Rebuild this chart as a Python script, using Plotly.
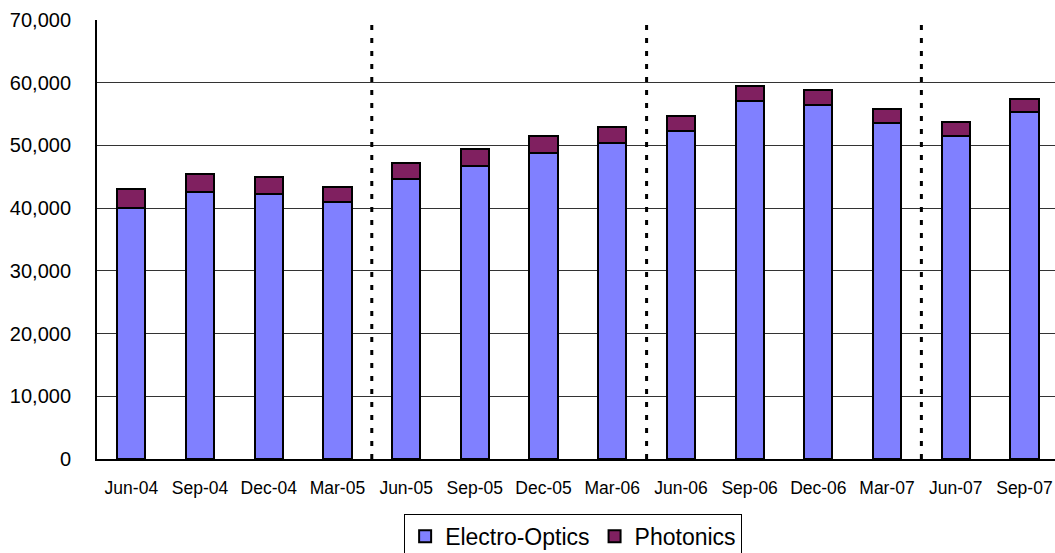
import plotly.graph_objects as go

quarters = ["Jun-04", "Sep-04", "Dec-04", "Mar-05", "Jun-05", "Sep-05", "Dec-05",
            "Mar-06", "Jun-06", "Sep-06", "Dec-06", "Mar-07", "Jun-07", "Sep-07"]
electro_optics = [40000, 42500, 42200, 41000, 44600, 46800, 48800,
                  50400, 52300, 57100, 56500, 53600, 51500, 55300]
photonics = [3000, 2900, 2700, 2400, 2600, 2600, 2700,
             2600, 2400, 2400, 2300, 2200, 2300, 2100]
# fiscal year boundaries (between Mar and Jun)
year_breaks = [3.5, 7.5, 11.5]

FONT = "Liberation Sans, Arial, sans-serif"
idx = list(range(len(quarters)))

fig = go.Figure()
fig.add_trace(go.Bar(
    x=idx, y=electro_optics, name="Electro-Optics",
    marker=dict(color="#8080FF", line=dict(color="black", width=2)),
    width=0.41,
))
fig.add_trace(go.Bar(
    x=idx, y=photonics, name="Photonics",
    marker=dict(color="#802060", line=dict(color="black", width=2)),
    width=0.41,
))

for xb in year_breaks:
    fig.add_shape(type="line", xref="x", yref="paper", x0=xb, x1=xb, y0=0, y1=1,
                  line=dict(color="black", width=3, dash="5px,8px"), layer="above")

fig.update_layout(
    barmode="stack",
    width=1055, height=553,
    margin=dict(l=97, r=0, t=20, b=94, autoexpand=False),
    paper_bgcolor="white", plot_bgcolor="white",
    font=dict(family=FONT, color="black", size=18),
    showlegend=True,
    legend=dict(orientation="h", x=0.497, xanchor="center", y=-0.125, yanchor="top",
                bordercolor="black", borderwidth=1, font=dict(size=23),
                traceorder="normal", itemwidth=30, tracegroupgap=0),
    xaxis=dict(
        tickmode="array", tickvals=idx, ticktext=quarters,
        range=[-0.5, 13.445], showline=True, linecolor="black", linewidth=2,
        showgrid=False, ticks="", tickfont=dict(size=17.5), ticklabelstandoff=12,
    ),
    yaxis=dict(
        range=[0, 70000], dtick=10000, tickformat=",d",
        showline=True, linecolor="black", linewidth=2,
        showgrid=True, gridcolor="#333333", gridwidth=1,
        ticks="", tickfont=dict(size=20), ticklabelstandoff=20, zeroline=False,
    ),
)

fig.write_html("out.html")
